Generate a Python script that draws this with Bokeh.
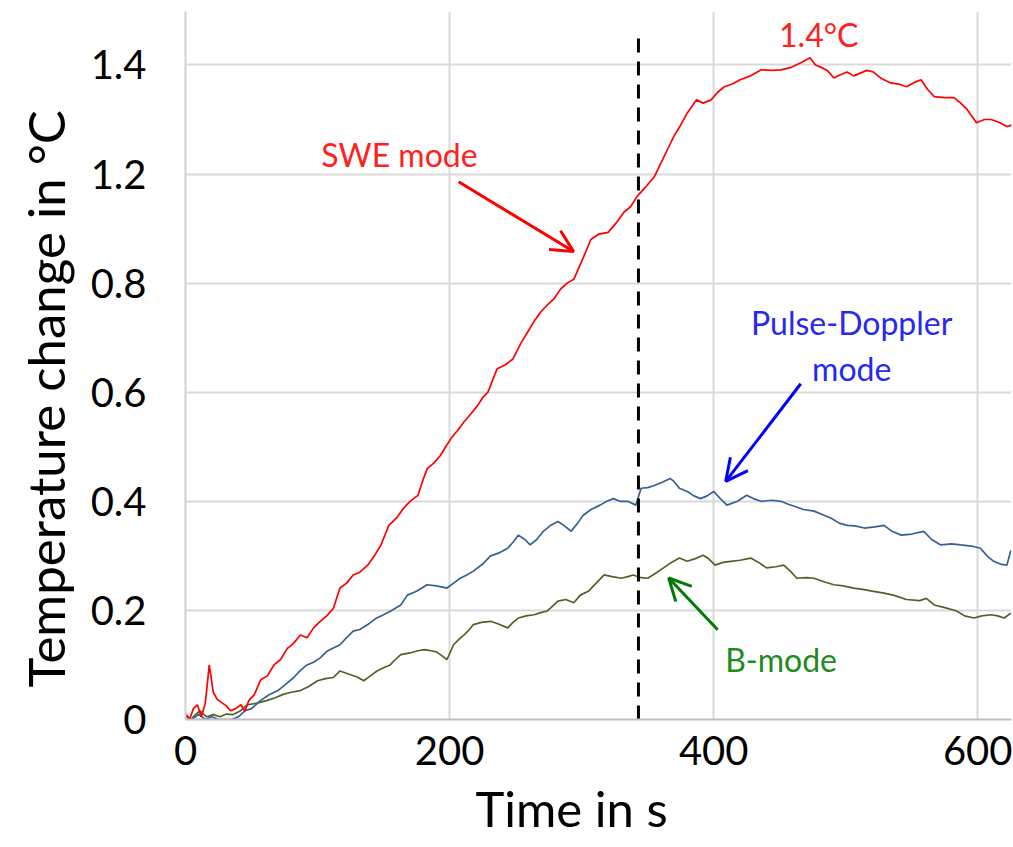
from bokeh.plotting import figure
from bokeh.models import Label, Arrow, OpenHead, FixedTicker, Range1d, Title
from bokeh.embed import file_html
from bokeh.resources import INLINE

# ---- data (y values are positions on the evenly spaced grid) ----
swe_t = [0, 3, 6, 9, 12, 15, 18, 21, 24, 28, 31, 34, 38, 42, 45, 48, 52, 57, 62, 67, 72, 77, 82, 87, 92, 97,
         102, 107, 112, 117, 122, 127, 132, 138, 143, 148, 154, 160, 165, 170, 176, 180, 183, 188, 193, 197,
         201, 206, 211, 216, 221, 225, 229, 233, 236, 242, 248, 254, 259, 264, 269, 274, 279, 284, 289, 294,
         300, 307, 313, 320, 326, 332, 337, 342, 348, 355, 360, 365, 370, 375, 380, 387, 392, 398, 403, 408,
         414, 420, 428, 436, 444, 451, 458, 466, 473, 477, 481, 486, 491, 496, 501, 506, 511, 516, 521, 527,
         534, 540, 546, 552, 557, 562, 567, 575, 582, 587, 592, 599, 605, 610, 616, 622, 626]
swe_v = [0.01, 0.0, 0.02, 0.027, 0.005, 0.03, 0.10, 0.05, 0.037, 0.03, 0.025, 0.016, 0.02, 0.027, 0.015, 0.035,
         0.045, 0.073, 0.08, 0.10, 0.11, 0.13, 0.14, 0.155, 0.15, 0.168, 0.18, 0.19, 0.204, 0.241, 0.25, 0.265,
         0.27, 0.283, 0.30, 0.32, 0.356, 0.37, 0.387, 0.40, 0.411, 0.44, 0.46, 0.47, 0.484, 0.50, 0.515, 0.53,
         0.546, 0.56, 0.575, 0.59, 0.60, 0.625, 0.643, 0.65, 0.661, 0.69, 0.71, 0.73, 0.747, 0.76, 0.771, 0.789,
         0.80, 0.807, 0.84, 0.88, 0.89, 0.893, 0.91, 0.93, 0.94, 0.959, 0.975, 0.995, 1.02, 1.045, 1.07, 1.09,
         1.112, 1.136, 1.13, 1.136, 1.15, 1.16, 1.165, 1.173, 1.18, 1.191, 1.19, 1.191, 1.195, 1.204, 1.213, 1.20,
         1.196, 1.19, 1.176, 1.182, 1.187, 1.18, 1.185, 1.19, 1.187, 1.175, 1.167, 1.165, 1.16, 1.168, 1.173,
         1.155, 1.142, 1.14, 1.14, 1.13, 1.118, 1.094, 1.10, 1.10, 1.095, 1.087, 1.09]

pd_t = [0, 5, 10, 15, 20, 25, 30, 35, 40, 45, 50, 57, 63, 70, 76, 82, 87, 92, 97, 102, 107, 112, 117, 122, 127,
        132, 138, 144, 150, 156, 163, 168, 175, 183, 190, 198, 203, 208, 213, 218, 225, 231, 237, 244, 248, 252,
        257, 261, 266, 271, 276, 282, 287, 292, 297, 301, 307, 314, 319, 324, 329, 335, 341, 345, 350, 355, 361,
        367, 370, 374, 380, 385, 390, 395, 400, 405, 410, 418, 425, 430, 436, 444, 451, 456, 461, 468, 476, 483,
        489, 495, 501, 507, 514, 522, 529, 535, 542, 550, 559, 565, 572, 580, 587, 595, 602, 607, 612, 617, 622,
        625]
pd_v = [0.005, 0.0, 0.01, 0.0, 0.005, 0.0, 0.0, 0.0, 0.005, 0.016, 0.02, 0.035, 0.045, 0.053, 0.065, 0.077, 0.09,
        0.10, 0.105, 0.113, 0.125, 0.131, 0.137, 0.15, 0.162, 0.165, 0.174, 0.185, 0.192, 0.20, 0.21, 0.228,
        0.235, 0.247, 0.245, 0.241, 0.25, 0.259, 0.265, 0.272, 0.285, 0.30, 0.305, 0.314, 0.325, 0.338, 0.33,
        0.32, 0.33, 0.345, 0.355, 0.363, 0.355, 0.345, 0.36, 0.374, 0.385, 0.393, 0.40, 0.405, 0.40, 0.40, 0.393,
        0.424, 0.425, 0.429, 0.435, 0.442, 0.436, 0.424, 0.418, 0.41, 0.405, 0.41, 0.418, 0.405, 0.393, 0.40,
        0.411, 0.405, 0.40, 0.402, 0.40, 0.395, 0.391, 0.385, 0.382, 0.375, 0.369, 0.36, 0.356, 0.355, 0.351,
        0.353, 0.356, 0.345, 0.338, 0.34, 0.345, 0.33, 0.32, 0.322, 0.32, 0.318, 0.314, 0.30, 0.29, 0.285, 0.283,
        0.31]

b_t = [0, 4, 8, 11, 16, 21, 26, 31, 36, 41, 47, 54, 62, 68, 74, 80, 87, 93, 100, 106, 112, 117, 125, 130, 135,
       140, 145, 150, 155, 159, 163, 170, 176, 181, 186, 190, 193, 198, 203, 207, 211, 215, 218, 224, 231, 237,
       244, 248, 252, 258, 264, 269, 274, 278, 282, 288, 294, 299, 305, 311, 317, 323, 330, 335, 339, 345, 350,
       356, 362, 368, 374, 380, 386, 392, 396, 401, 407, 413, 420, 428, 434, 440, 447, 453, 458, 463, 470, 476,
       484, 491, 498, 506, 514, 521, 528, 536, 546, 556, 561, 567, 575, 584, 590, 597, 603, 610, 615, 620, 625]
b_v = [0.01, 0.0, 0.01, 0.016, 0.005, 0.009, 0.005, 0.01, 0.009, 0.015, 0.027, 0.03, 0.035, 0.04, 0.046, 0.05,
       0.053, 0.06, 0.071, 0.075, 0.077, 0.089, 0.082, 0.078, 0.071, 0.08, 0.089, 0.095, 0.10, 0.11, 0.119, 0.122,
       0.126, 0.128, 0.126, 0.124, 0.119, 0.11, 0.137, 0.147, 0.155, 0.165, 0.174, 0.178, 0.18, 0.175, 0.168,
       0.178, 0.186, 0.19, 0.192, 0.196, 0.199, 0.208, 0.217, 0.22, 0.214, 0.228, 0.235, 0.25, 0.265, 0.262,
       0.259, 0.262, 0.265, 0.26, 0.259, 0.268, 0.278, 0.288, 0.296, 0.29, 0.295, 0.301, 0.295, 0.283, 0.288,
       0.29, 0.292, 0.296, 0.288, 0.278, 0.28, 0.283, 0.272, 0.259, 0.26, 0.259, 0.252, 0.247, 0.245, 0.241,
       0.238, 0.235, 0.232, 0.228, 0.22, 0.218, 0.222, 0.21, 0.205, 0.199, 0.19, 0.186, 0.19, 0.192, 0.19, 0.186,
       0.195]

y_ticks = [0, 0.2, 0.4, 0.6, 0.8, 1.0, 1.2]
y_tick_labels = ["0", "0.2", "0.4", "0.6", "0.8", "1.2", "1.4"]
x_ticks = [0, 200, 400, 600]
x_grid = [0, 200, 400, 600]
marker_time = 343

FONT = "Lato"

p = figure(width=1012, height=846, output_backend="svg", toolbar_location=None,
           x_range=Range1d(0, 625.5), y_range=Range1d(0, 1.298),
           min_border_left=185, min_border_right=1, min_border_top=11, min_border_bottom=124)
p.outline_line_color = None
p.background_fill_color = "white"
p.border_fill_color = "white"

# grid
p.xgrid.ticker = FixedTicker(ticks=x_grid)
p.ygrid.ticker = FixedTicker(ticks=y_ticks)
for g in (p.xgrid, p.ygrid):
    g.grid_line_color = "#D9D9D9"
    g.grid_line_width = 2

# axes
p.xaxis.ticker = FixedTicker(ticks=x_ticks)
p.yaxis.ticker = FixedTicker(ticks=y_ticks)
p.yaxis.major_label_overrides = {t: l for t, l in zip(y_ticks, y_tick_labels)}
for ax in (p.xaxis, p.yaxis):
    ax.major_tick_line_color = None
    ax.minor_tick_line_color = None
    ax.major_label_text_font = FONT
    ax.major_label_text_font_size = "40px"
    ax.major_label_text_color = "black"
p.xaxis.axis_line_color = "#BFBFBF"
p.xaxis.axis_line_width = 2
p.yaxis.axis_line_color = "#D0D0D0"
p.yaxis.axis_line_width = 2
p.xaxis.major_label_standoff = 10
p.yaxis.major_label_standoff = 33

# axis titles as side titles (offset from the frame centre, as in the original)
p.add_layout(Title(text="Temperature change in °C", text_font=FONT, text_font_size="51px",
                   text_font_style="normal", text_color="black", align="left",
                   vertical_align="top", offset=32, standoff=20), "left")
p.add_layout(Title(text="Time in s", text_font=FONT, text_font_size="49px",
                   text_font_style="normal", text_color="black", align="left",
                   offset=290, standoff=19), "below")

# series
p.line(b_t, b_v, line_color="#4F6228", line_width=1.7)
p.line(pd_t, pd_v, line_color="#376092", line_width=1.7)
p.line(swe_t, swe_v, line_color="#FF0000", line_width=1.7)

# dashed marker
p.segment(x0=[marker_time], y0=[0], x1=[marker_time], y1=[1.249],
          line_color="black", line_width=3, line_dash="14 9")

# annotations
def lab(x, y, text, color):
    p.add_layout(Label(x=x, y=y, text=text, text_color=color, text_font=FONT,
                       text_font_size="32px", text_align="center", text_baseline="middle"))

lab(162, 1.036, "SWE mode", "#FF2020")
lab(479.5, 1.256, "1.4°C", "#FF2020")
lab(504.5, 0.727, "Pulse-Doppler", "#2828F0")
lab(504.5, 0.643, "mode", "#2828F0")
lab(451, 0.110, "B-mode", "#208A20")

def arrow(x0, y0, x1, y1, color):
    p.add_layout(Arrow(x_start=x0, y_start=y0, x_end=x1, y_end=y1, line_color=color, line_width=3,
                       end=OpenHead(line_color=color, line_width=3, size=22)))

arrow(206.8, 0.986, 293.9, 0.858, "#FF0000")
arrow(465.9, 0.6155, 409.1, 0.4365, "#0000FF")
arrow(403, 0.1644, 365.9, 0.2594, "#007A00")

open("out.html", "w").write(file_html(p, INLINE))
